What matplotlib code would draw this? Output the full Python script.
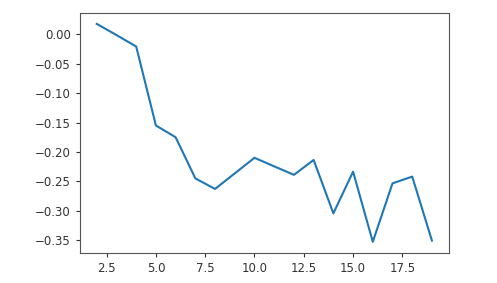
import matplotlib
matplotlib.use("Agg")
import matplotlib.pyplot as plt

x = list(range(2, 20))
y = [0.018, -0.001, -0.0205, -0.155, -0.175, -0.245, -0.263, -0.2365, -0.21,
     -0.2245, -0.239, -0.2136, -0.3046, -0.2336, -0.353, -0.2535, -0.242, -0.351]

fig = plt.figure(figsize=(4.97, 2.83), dpi=100)
ax = fig.add_axes([80/497, (283-252.7)/283, (448.7-80)/497, (252.7-13)/283])
ax.plot(x, y, color="#1f77b4", linewidth=1.5)
ax.set_yticks([0.0, -0.05, -0.1, -0.15, -0.2, -0.25, -0.3, -0.35])
ax.set_xticks([2.5, 5.0, 7.5, 10.0, 12.5, 15.0, 17.5])
ax.tick_params(labelsize=8.5, colors="#333333", length=3)
for s in ax.spines.values():
    s.set_color("#555555")
fig.savefig("out.png", dpi=100)
